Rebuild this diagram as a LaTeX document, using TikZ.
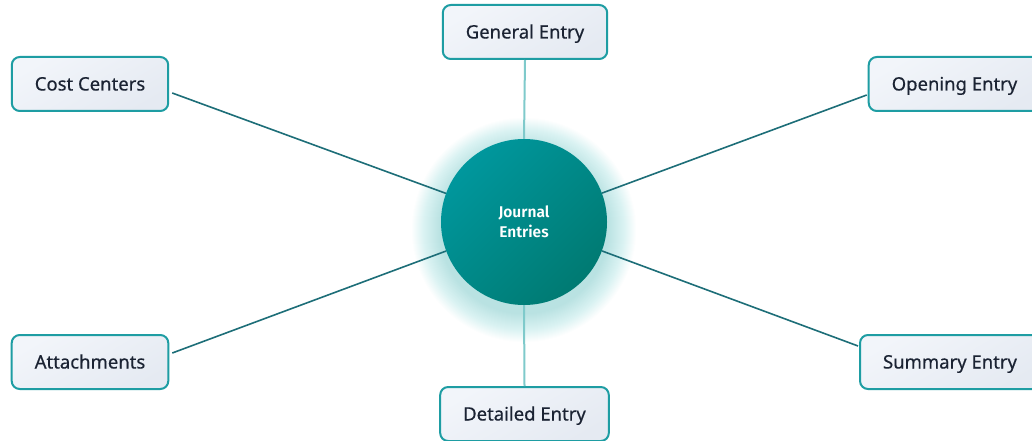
\documentclass[tikz,border=0pt]{standalone}
\usepackage{fontspec}
\setmainfont{Noto Sans}
\newfontfamily\leaffont{Noto Sans}[UprightFeatures={FakeBold=0.5}]
\newfontfamily\hubfont{Fira Sans SemiBold}
\definecolor{tealedge}{HTML}{1E9DA3}
\definecolor{tealline}{HTML}{1D6E78}
\definecolor{tealstem}{HTML}{7FCACB}
\definecolor{tealtop}{HTML}{00979D}
\definecolor{tealbot}{HTML}{007A72}
\definecolor{glow}{HTML}{5CC6C6}
\definecolor{boxtop}{HTML}{F2F5FA}
\definecolor{boxbot}{HTML}{E5EAF2}
\definecolor{ink}{HTML}{1B2333}
\tikzset{
  leaf/.style={draw=tealedge,line width=2pt,rounded corners=8pt,
    top color=boxtop,bottom color=boxbot,shading angle=30,
    minimum height=54pt,inner xsep=23pt,text=ink,
    text height=13pt,text depth=0pt,
    font=\leaffont\fontsize{18.5}{22}\selectfont},
  hub/.style={circle,minimum size=166pt,inner sep=0pt,
    top color=tealtop,bottom color=tealbot,shading angle=45,
    text=white,align=center,font=\hubfont\fontsize{15.5}{20}\selectfont},
  spoke/.style={draw=tealline,line width=1.6pt},
  stem/.style={draw=tealstem,line width=2pt}
}
\def\glowring#1{\fill[glow,opacity=0.014] (524,230) circle (#1);}

\begin{document}
\begin{tikzpicture}[x=1pt,y=-1pt]
  \useasboundingbox[fill=white] (0,0) rectangle (1032,441);
  % soft glow round the hub
  \foreach \r in {84,...,112} {\glowring{\r}}
  \node[hub] (je) at (524,222) {Journal\\Entries};
  \node[leaf] (ge) at (525,32) {General Entry};
  \node[leaf] (cc) at (90,84) {Cost Centers};
  \node[leaf] (oe) at (954.5,84) {Opening Entry};
  \node[leaf] (at) at (90,362) {Attachments};
  \node[leaf] (se) at (950,362) {Summary Entry};
  \node[leaf] (de) at (524.5,414) {Detailed Entry};
  % connectors
  \draw[stem] (ge.south) -- (je.north);
  \draw[stem] (je.south) -- (de.north);
  \draw[spoke] ([xshift=3pt,yshift=-9pt]cc.east) -- (je);
  \draw[spoke] ([xshift=-1pt,yshift=-11pt]oe.west) -- (je);
  \draw[spoke] ([xshift=3pt,yshift=9pt]at.east) -- (je);
  \draw[spoke] ([xshift=-1pt,yshift=16pt]se.west) -- (je);
\end{tikzpicture}
\end{document}
